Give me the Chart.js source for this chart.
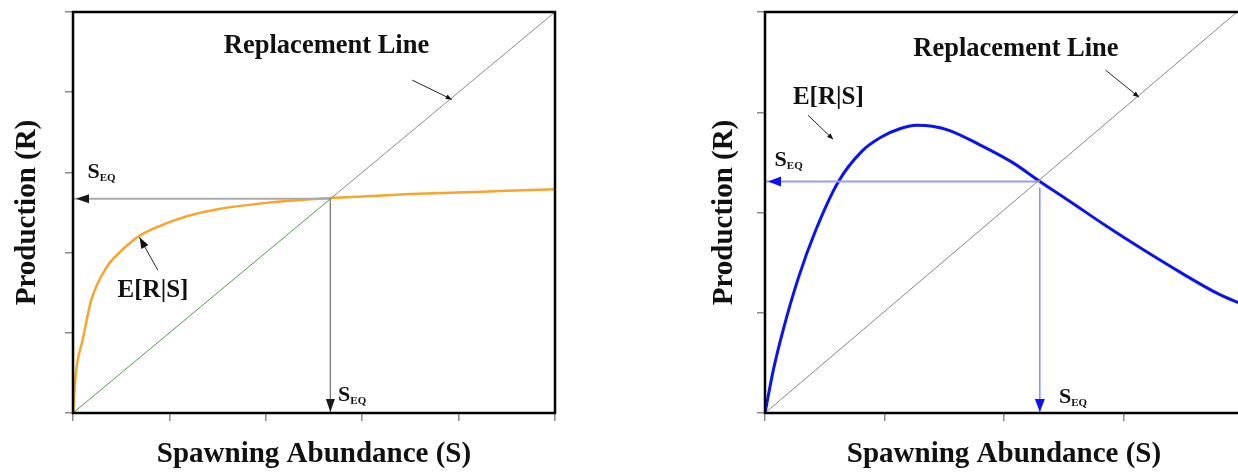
<!DOCTYPE html>
<html>
<head>
<meta charset="utf-8">
<script src="https://cdn.jsdelivr.net/npm/chart.js@4.4.1/dist/chart.umd.min.js"></script>
<style>
  html, body { margin:0; padding:0; background:#fff; overflow:hidden; }
  #wrap { position:relative; width:1238px; height:473px; overflow:hidden; background:#fff; }
  #c1 { position:absolute; left:0; top:0; }
  #c2 { position:absolute; left:692px; top:0; }
</style>
</head>
<body>
<div id="wrap">
  <canvas id="c1" width="600" height="473"></canvas>
  <canvas id="c2" width="560" height="473"></canvas>
</div>
<script>
// ---------- data ----------
// Left panel: asymptotic (Beverton-Holt type) production curve
const leftS = [0, 0.03, 0.1, 0.19, 0.35, 0.5, 0.6, 0.69, 0.8, 0.9, 1.0, 1.2, 1.5, 2.0, 2.4, 2.67, 3.0, 3.5, 4.0, 4.5, 5.0];
const leftR = [0, 0.5, 0.91, 1.41, 1.82, 2.02, 2.13, 2.21, 2.28, 2.33, 2.38, 2.46, 2.54, 2.62, 2.66, 2.68, 2.70, 2.73, 2.75, 2.77, 2.79];
const leftEq = 2.67;
const leftReplS = [0, 2.67, 5];
const leftReplR = [0, 2.67, 5];
const leftTicksX = [0, 1, 2, 3, 4, 5];
const leftTicksY = [0, 1, 2, 3, 4, 5];

// Right panel: dome-shaped (Ricker type) production curve
const rightS = [0, 0.07, 0.15, 0.28, 0.42, 0.61, 0.81, 0.97, 1.14, 1.27, 1.40, 1.54, 1.79, 2.07, 2.30, 2.54, 2.85, 3.15, 3.48, 3.79, 3.94, 4.0];
const rightR = [0, 0.43, 0.82, 1.35, 1.81, 2.30, 2.61, 2.75, 2.84, 2.87, 2.86, 2.82, 2.68, 2.50, 2.31, 2.12, 1.87, 1.64, 1.40, 1.19, 1.11, 1.08];
const rightEqS = 2.30;
const rightEqR = 2.31;
const rightReplS = [0, 3.95];
const rightReplR = [0, 4.0];
const rightTicksX = [0, 1, 2, 3, 4];
const rightTicksY = [0, 1, 2, 3, 4];

const xTitle = 'Spawning Abundance (S)';
const yTitle = 'Production (R)';
const curveLabel = 'E[R|S]';
const replLabel = 'Replacement Line';
const eqMain = 'S';
const eqSub = 'EQ';

// ---------- helpers ----------
const SERIF = '"Liberation Serif", "DejaVu Serif", serif';
const pts = (xs, ys) => xs.map((v, i) => ({x: v, y: ys[i]}));

function arrowHead(ctx, tx, ty, fx, fy, len, half, color) {
  const ang = Math.atan2(ty - fy, tx - fx);
  ctx.save();
  ctx.translate(tx, ty);
  ctx.rotate(ang);
  ctx.beginPath();
  ctx.moveTo(0, 0);
  ctx.lineTo(-len, -half);
  ctx.lineTo(-len, half);
  ctx.closePath();
  ctx.fillStyle = color;
  ctx.fill();
  ctx.restore();
}

const overlay = {
  id: 'overlay',
  afterDatasetsDraw(chart, args, o) {
    const {ctx, chartArea: a, scales: {x, y}} = chart;
    const px = v => x.getPixelForValue(v);
    const py = v => y.getPixelForValue(v);
    ctx.save();
    // frame
    ctx.strokeStyle = '#000';
    ctx.lineWidth = 2.5;
    ctx.strokeRect(a.left, a.top, a.right - a.left, a.bottom - a.top);

    // equilibrium arrowheads (at the ends of the equilibrium datasets)
    const h = chart.data.datasets[o.hIndex].data;
    const v = chart.data.datasets[o.vIndex].data;
    arrowHead(ctx, px(h[1].x) + 3, py(h[1].y), px(h[0].x), py(h[0].y), o.headLen, o.headHalf, o.headColor);
    arrowHead(ctx, px(v[1].x), py(v[1].y) - 1, px(v[0].x), py(v[0].y), o.headLen, o.headHalf, o.headColor);

    // pointer arrows
    ctx.strokeStyle = '#222';
    ctx.lineWidth = 1;
    o.pointers.forEach(p => {
      const fx = px(p.from[0]), fy = py(p.from[1]), tx = px(p.to[0]), ty = py(p.to[1]);
      ctx.beginPath();
      ctx.moveTo(fx, fy);
      ctx.lineTo(tx, ty);
      ctx.stroke();
      arrowHead(ctx, tx, ty, fx, fy, p.len, p.half, '#111');
    });

    // text labels
    ctx.fillStyle = '#111';
    ctx.textBaseline = 'middle';
    o.labels.forEach(l => {
      ctx.font = 'bold ' + l.size + 'px ' + SERIF;
      ctx.textAlign = 'center';
      ctx.fillText(l.text, px(l.x), py(l.y));
    });
    // S_EQ labels
    o.eqLabels.forEach(l => {
      const lx = px(l.x), ly = py(l.y);
      ctx.textAlign = 'left';
      ctx.font = 'bold 22px ' + SERIF;
      ctx.fillText(eqMain, lx, ly);
      const w = ctx.measureText(eqMain).width;
      ctx.font = 'bold 11px ' + SERIF;
      ctx.fillText(eqSub, lx + w, ly + 6);
    });
    ctx.restore();
  }
};

function makeScales(xmax, ymax, xTicks, yTicks, yTitlePad) {
  const grid = {drawOnChartArea: false, drawTicks: true, tickLength: 8, color: '#8a8a8a', lineWidth: 1.5};
  return {
    x: {
      type: 'linear', min: 0, max: xmax,
      afterBuildTicks: s => { s.ticks = xTicks.map(v => ({value: v})); },
      ticks: {display: false},
      grid: grid,
      border: {display: false},
      title: {display: true, text: xTitle, color: '#111',
              font: {family: SERIF, size: 29, weight: 'bold'}, padding: {top: 0, bottom: 1}},
      afterFit: s => { s.height = 60; }
    },
    y: {
      type: 'linear', min: 0, max: ymax,
      afterBuildTicks: s => { s.ticks = yTicks.map(v => ({value: v})); },
      ticks: {display: false},
      grid: grid,
      border: {display: false},
      title: {display: true, text: yTitle, color: '#111',
              font: {family: SERIF, size: 29, weight: 'bold'}, padding: {top: yTitlePad, bottom: 0}},
      afterFit: s => { s.width = 73; }
    }
  };
}

const baseLine = {pointRadius: 0, pointHoverRadius: 0, fill: false};

// ---------- left chart ----------
new Chart(document.getElementById('c1'), {
  type: 'line',
  data: {
    datasets: [
      Object.assign({label: 'replacement-low', data: pts(leftReplS.slice(0, 2), leftReplR.slice(0, 2)),
        borderColor: '#4f9a4f', borderWidth: 1}, baseLine),
      Object.assign({label: 'replacement-high', data: pts(leftReplS.slice(1), leftReplR.slice(1)),
        borderColor: '#8a8a8a', borderWidth: 1}, baseLine),
      Object.assign({label: 'eq-h', data: [{x: leftEq, y: leftEq}, {x: 0, y: leftEq}],
        borderColor: '#ababab', borderWidth: 2}, baseLine),
      Object.assign({label: 'eq-v', data: [{x: leftEq, y: leftEq}, {x: leftEq, y: 0}],
        borderColor: '#7a7a7a', borderWidth: 1}, baseLine),
      Object.assign({label: curveLabel, data: pts(leftS, leftR),
        borderColor: '#f9a42a', borderWidth: 2.5, cubicInterpolationMode: 'monotone'}, baseLine)
    ]
  },
  options: {
    responsive: false, animation: false, devicePixelRatio: 1,
    layout: {padding: {left: 0, top: 12, right: 45, bottom: 0}},
    plugins: {
      legend: {display: false}, tooltip: {enabled: false},
      overlay: {
        hIndex: 2, vIndex: 3, headLen: 13, headHalf: 4.5, headColor: '#1a1a1a',
        labels: [
          {text: replLabel, x: 2.63, y: 4.58, size: 26.5},
          {text: curveLabel, x: 0.83, y: 1.53, size: 25}
        ],
        pointers: [
          {from: [3.52, 4.15], to: [3.93, 3.91], len: 6, half: 2.5},
          {from: [0.88, 1.78], to: [0.69, 2.19], len: 11, half: 4}
        ],
        eqLabels: [
          {x: 0.15, y: 3.0},
          {x: 2.75, y: 0.22}
        ]
      }
    },
    scales: makeScales(5, 5, leftTicksX, leftTicksY, 10)
  },
  plugins: [overlay]
});

// ---------- right chart ----------
new Chart(document.getElementById('c2'), {
  type: 'line',
  data: {
    datasets: [
      Object.assign({label: 'replacement', data: pts(rightReplS, rightReplR),
        borderColor: '#858585', borderWidth: 1}, baseLine),
      Object.assign({label: 'eq-h', data: [{x: rightEqS, y: rightEqR}, {x: 0, y: rightEqR}],
        borderColor: '#9a9aff', borderWidth: 2}, baseLine),
      Object.assign({label: 'eq-v', data: [{x: rightEqS, y: rightEqR - 0.06}, {x: rightEqS, y: 0}],
        borderColor: '#6a6aff', borderWidth: 1.2}, baseLine),
      Object.assign({label: curveLabel, data: pts(rightS, rightR),
        borderColor: '#0a14f0', borderWidth: 3, cubicInterpolationMode: 'monotone'}, baseLine)
    ]
  },
  options: {
    responsive: false, animation: false, devicePixelRatio: 1,
    layout: {padding: {left: 0, top: 12, right: 9, bottom: 0}},
    plugins: {
      legend: {display: false}, tooltip: {enabled: false},
      overlay: {
        hIndex: 1, vIndex: 2, headLen: 13, headHalf: 5, headColor: '#1010ff',
        labels: [
          {text: replLabel, x: 2.10, y: 3.63, size: 26.5},
          {text: curveLabel, x: 0.53, y: 3.15, size: 25}
        ],
        pointers: [
          {from: [2.85, 3.42], to: [3.13, 3.15], len: 6, half: 2.5},
          {from: [0.36, 2.97], to: [0.57, 2.73], len: 6, half: 2.5}
        ],
        eqLabels: [
          {x: 0.08, y: 2.52},
          {x: 2.46, y: 0.16}
        ]
      }
    },
    scales: makeScales(4, 4, rightTicksX, rightTicksY, 15)
  },
  plugins: [overlay]
});
</script>
</body>
</html>
